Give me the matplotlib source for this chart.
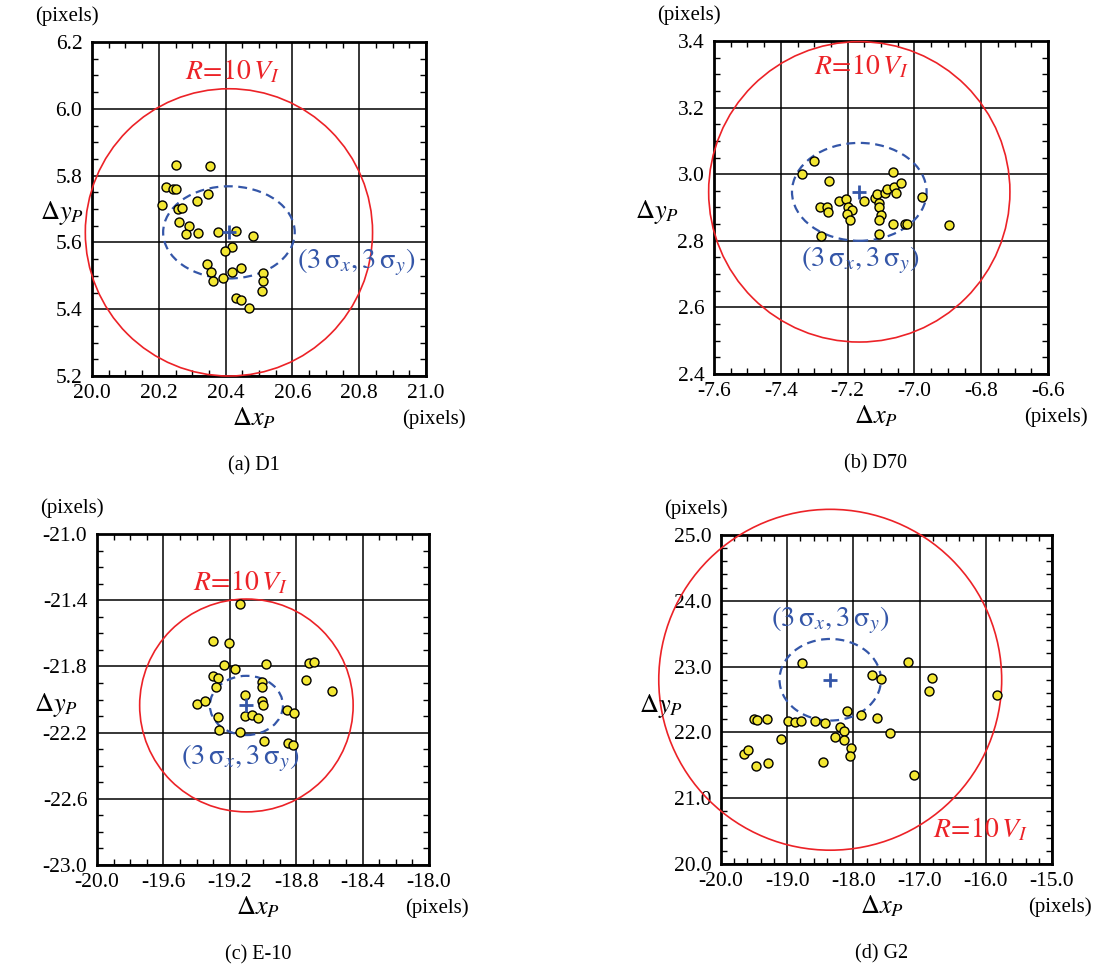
import matplotlib
matplotlib.use('Agg')
import numpy as np
import matplotlib.pyplot as plt
from matplotlib.patches import Ellipse
from matplotlib.ticker import FixedLocator, FormatStrFormatter

plt.rcParams['font.family'] = ['Liberation Serif', 'DejaVu Serif']
plt.rcParams['mathtext.fontset'] = 'stix'
plt.rcParams['axes.unicode_minus'] = False

# ---------------- data ----------------
# (a) D1
d1_x = [20.252, 20.354, 20.222, 20.242, 20.250, 20.346, 20.211, 20.258, 20.270, 20.313,
        20.259, 20.290, 20.281, 20.316, 20.376, 20.432, 20.482, 20.419, 20.398, 20.343,
        20.356, 20.363, 20.391, 20.420, 20.445, 20.513, 20.511, 20.510, 20.431, 20.446, 20.470]
d1_y = [5.833, 5.829, 5.765, 5.761, 5.761, 5.745, 5.713, 5.701, 5.704, 5.723,
        5.661, 5.649, 5.625, 5.627, 5.631, 5.635, 5.619, 5.585, 5.575, 5.536,
        5.511, 5.485, 5.493, 5.511, 5.523, 5.507, 5.485, 5.453, 5.435, 5.428, 5.404]
d1_center = (20.41, 5.63)
d1_radius = 0.43
d1_sigma3 = (0.197, 0.138)

# (b) D70
d70_x = [-7.301, -7.336, -7.256, -7.283, -7.263, -7.258, -7.280, -7.227, -7.205, -7.200,
         -7.187, -7.201, -7.192, -7.151, -7.118, -7.112, -7.107, -7.106, -7.100, -7.105,
         -7.105, -7.088, -7.083, -7.063, -7.061, -7.056, -7.039, -7.065, -7.029, -7.023,
         -6.977, -6.895]
d70_y = [3.041, 3.001, 2.979, 2.900, 2.900, 2.886, 2.813, 2.919, 2.926, 2.902,
         2.892, 2.881, 2.862, 2.919, 2.929, 2.942, 2.915, 2.903, 2.876, 2.862,
         2.819, 2.945, 2.955, 3.008, 2.961, 2.945, 2.974, 2.849, 2.851, 2.851,
         2.933, 2.847]
d70_center = (-7.165, 2.947)
d70_radius = 0.451
d70_sigma3 = (0.2015, 0.147)

# (c) E-10
e10_x = [-19.136, -19.304, -19.206, -19.232, -19.170, -18.981, -18.723, -18.695, -19.304, -19.272,
         -19.286, -19.006, -19.006, -18.741, -18.586, -19.110, -19.400, -19.348, -19.004, -19.002,
         -19.274, -19.106, -19.068, -19.028, -18.857, -18.813, -19.266, -19.140, -18.995, -18.849,
         -18.817]
e10_y = [-21.423, -21.647, -21.660, -21.793, -21.813, -21.783, -21.777, -21.771, -21.856, -21.870,
         -21.924, -21.896, -21.924, -21.884, -21.947, -21.975, -22.027, -22.011, -22.011, -22.032,
         -22.104, -22.098, -22.096, -22.112, -22.066, -22.082, -22.183, -22.195, -22.250, -22.262,
         -22.272]
e10_center = (-19.10, -22.036)
e10_radius = 0.643
e10_sigma3 = (0.22, 0.179)

# (d) G2
g2_x = [-18.775, -17.181, -17.716, -17.584, -16.818, -16.863, -15.835, -18.094, -17.882, -17.640,
        -19.309, -18.986, -18.875, -18.795, -18.583, -18.427, -19.496, -19.455, -18.200, -18.139,
        -17.443, -19.092, -18.285, -18.149, -18.033, -18.053, -19.652, -19.597, -19.465, -19.284,
        -18.462, -17.080]
g2_y = [23.060, 23.070, 22.872, 22.817, 22.832, 22.624, 22.573, 22.320, 22.259, 22.219,
        22.199, 22.178, 22.163, 22.178, 22.178, 22.138, 22.209, 22.188, 22.077, 22.021,
        21.986, 21.905, 21.925, 21.884, 21.758, 21.646, 21.672, 21.733, 21.489, 21.535,
        21.555, 21.347]
g2_center = (-18.35, 22.80)
g2_radius = 2.59
g2_sigma3 = (0.766, 0.62)

captions = ['(a) D1', '(b) D70', '(c) E-10', '(d) G2']

# ---------------- layout ----------------
W, H = 1094, 965
fig = plt.figure(figsize=(W / 100, H / 100), dpi=100)

def px_rect(l, t, r, b):
    return [l / W, 1 - b / H, (r - l) / W, (b - t) / H]

def ftext(px, py, s, **kw):
    fig.text(px / W, 1 - py / H, s, ha=kw.pop('ha', 'center'), va=kw.pop('va', 'center'), **kw)

def ticks(lo, hi, step):
    n = int(round((hi - lo) / step))
    return lo + step * np.arange(n + 1)

RED = '#ec2227'
BLUE = '#3456a8'
YEL = '#f3e733'

panels = [
    dict(rect=(92, 42, 426, 376), x=d1_x, y=d1_y, c=d1_center, r=d1_radius, s=d1_sigma3,
         xlim=(20.0, 21.0), ylim=(5.2, 6.2), maj=0.2, mnr=0.05,
         rpos=(20.42, 6.11), spos=(20.79, 5.54), dy_x=62),
    dict(rect=(714, 41, 1048, 374), x=d70_x, y=d70_y, c=d70_center, r=d70_radius, s=d70_sigma3,
         xlim=(-7.6, -6.6), ylim=(2.4, 3.4), maj=0.2, mnr=0.05,
         rpos=(-7.157, 3.323), spos=(-7.163, 2.74), dy_x=657),
    dict(rect=(97, 534, 429, 865), x=e10_x, y=e10_y, c=e10_center, r=e10_radius, s=e10_sigma3,
         xlim=(-20.0, -18.0), ylim=(-23.0, -21.0), maj=0.4, mnr=0.1,
         rpos=(-19.136, -21.294), spos=(-19.136, -22.355), dy_x=56),
    dict(rect=(721, 535, 1052, 864), x=g2_x, y=g2_y, c=g2_center, r=g2_radius, s=g2_sigma3,
         xlim=(-20.0, -15.0), ylim=(20.0, 25.0), maj=1.0, mnr=0.2,
         rpos=(-16.08, 20.52), spos=(-18.351, 23.708), dy_x=661),
]

for i, p in enumerate(panels):
    l, t, r, b = p['rect']
    ax = fig.add_axes(px_rect(l, t, r, b))
    ax.set_xlim(*p['xlim'])
    ax.set_ylim(*p['ylim'])
    ax.xaxis.set_major_locator(FixedLocator(ticks(*p['xlim'], p['maj'])))
    ax.yaxis.set_major_locator(FixedLocator(ticks(*p['ylim'], p['maj'])))
    ax.xaxis.set_minor_locator(FixedLocator(ticks(*p['xlim'], p['mnr'])))
    ax.yaxis.set_minor_locator(FixedLocator(ticks(*p['ylim'], p['mnr'])))
    ax.xaxis.set_major_formatter(FormatStrFormatter('%.1f'))
    ax.yaxis.set_major_formatter(FormatStrFormatter('%.1f'))
    ax.tick_params(which='both', direction='in', top=True, right=True)
    ax.tick_params(which='major', length=0, pad=7, labelsize=15.5)
    ax.tick_params(axis='x', which='major', pad=6)
    ax.tick_params(which='minor', length=4, width=1.0)
    ax.grid(True, which='major', color='black', lw=1.1)
    ax.set_axisbelow(True)
    for sp in ax.spines.values():
        sp.set_linewidth(2.0)

    cx, cy = p['c']
    ax.add_patch(Ellipse((cx, cy), 2 * p['r'], 2 * p['r'], fill=False, ec=RED, lw=1.2,
                         clip_on=False, zorder=3))
    ax.add_patch(Ellipse((cx, cy), 2 * p['s'][0], 2 * p['s'][1], fill=False, ec=BLUE, lw=1.6,
                         ls=(0, (4, 2.5)), zorder=3))
    ax.scatter(p['x'], p['y'], s=42, c=YEL, edgecolors='black', linewidths=1.0, zorder=4)
    ax.plot([cx], [cy], marker='+', ms=10, mew=2.0, color=BLUE, zorder=5)

    ax.text(*p['rpos'], r'$R\!=\!10\,V_I$', color=RED, fontsize=20, ha='center', va='center')
    ax.text(*p['spos'], r'$(3\,\mathrm{\sigma}_x, 3\,\mathrm{\sigma}_y)$', color=BLUE,
            fontsize=20.5, ha='center', va='center')

    # surrounding labels
    axc = (l + r) / 2
    ftext(l - 25, t - 26, '(pixels)', fontsize=15)
    ftext(r + 8, b + 43, '(pixels)', fontsize=15)
    ftext(axc - 5, b + 42, r'$\Delta x_P$', fontsize=19)
    ftext(p['dy_x'], t + 171, r'$\Delta y_P$', fontsize=19)
    ftext(axc - 5, b + 90, captions[i], fontsize=14.5)

fig.savefig('out.png', dpi=100)
